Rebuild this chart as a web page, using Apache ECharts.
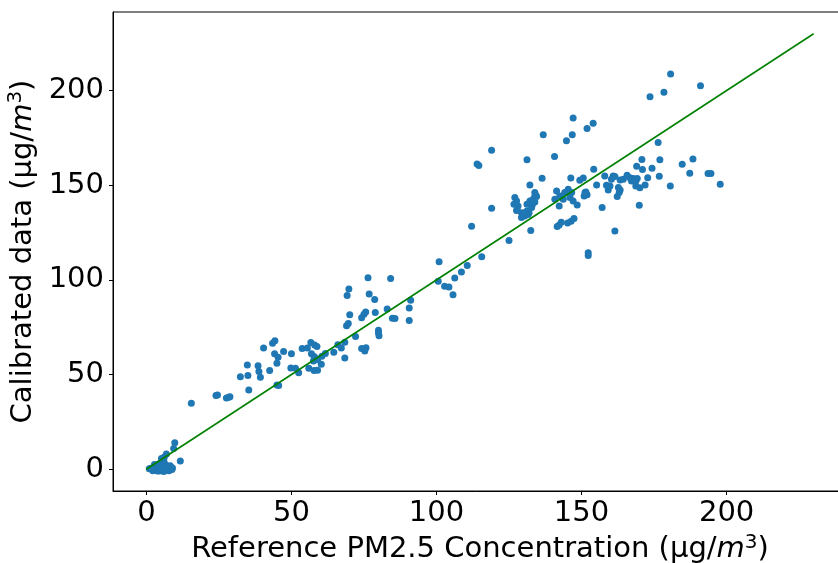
<!DOCTYPE html>
<html>
<head>
<meta charset="utf-8">
<script src="https://cdn.jsdelivr.net/npm/echarts@6/dist/echarts.min.js"></script>
<style>
  html, body { margin: 0; padding: 0; background: #fff; }
  #main { width: 838px; height: 563px; }
</style>
</head>
<body>
<div id="main"></div>
<script>
// reference PM2.5 (x) vs calibrated sensor data (y)
var refX = [
  1.0, 1.5, 2.0, 2.5, 3.0, 3.5, 4.0, 4.5, 5.0, 5.5, 6.0, 6.5, 7.0, 7.5, 8.0, 8.5, 3.2, 4.2, 5.2, 6.0,
  4.8, 2.2, 3.8, 5.8, 7.2, 6.6, 5.5, 6.2, 6.9, 9.4, 9.8, 11.7, 4.0, 8.8, 2.8, 5.2,
  3.0, 4.5, 6.0, 7.8, 8.2, 5.0, 6.8, 9.0,
  15.5, 24.0, 24.5, 27.6, 28.4, 28.8, 32.4, 35.0, 34.8, 35.3, 38.5, 38.8, 39.3, 40.4, 42.5, 43.5, 44.3, 44.2,
  45.4, 45.0, 45.0, 45.6, 47.3, 50.0, 49.8, 51.4, 52.5, 53.7, 55.5, 56.7, 58.0, 58.8, 56.9, 57.8, 58.3, 56.0,
  57.6, 59.0, 57.8, 59.0, 60.3, 60.5, 61.7, 64.6, 66.0, 67.2, 68.4, 68.4, 69.0, 69.6, 70.1, 69.2, 69.8, 72.1,
  74.2, 75.7, 75.3, 74.2, 75.0, 75.6, 76.4, 76.8, 78.7, 78.9, 80.0, 80.2, 80.0, 83.0, 84.2, 84.8, 85.7, 90.6,
  90.6, 91.1,
  100.9, 100.6, 102.8, 104.3, 105.7, 106.3, 108.6, 110.6, 112.1, 115.6, 114.0, 114.6, 119.0, 119.0, 125.0,
  127.0, 127.6, 126.7, 128.1, 127.6, 129.3, 129.3, 130.4, 131.6, 131.2, 132.2, 133.3, 133.9, 134.5, 133.1,
  132.8, 131.9, 127.8, 130.4, 131.2, 132.8, 133.9, 134.2, 133.9, 131.2, 132.2, 132.5, 136.4, 136.8,
  140.7, 140.8, 141.4, 142.5, 144.2, 143.7, 145.4, 146.6, 146.0, 147.1, 146.3, 148.5, 142.3, 141.6, 142.3,
  143.0, 145.2, 146.4, 147.4, 149.4, 150.6, 150.9, 151.5, 151.9, 151.2, 152.3, 152.3, 154.2, 155.2, 157.1,
  158.0, 147.1, 146.8, 144.8, 151.9, 154.0,
  160.9, 160.3, 161.5, 158.6, 159.2, 159.8, 162.7, 163.3, 163.0, 162.3, 163.3, 164.4, 165.7, 166.7, 167.8,
  168.7, 169.2, 167.2, 168.7, 170.1, 169.9, 161.5,
  180.7, 191.0, 178.4, 173.6, 176.4, 170.8, 177.0, 169.0, 171.0, 174.3, 184.7, 188.4, 187.3, 193.6, 194.6,
  197.8, 176.8, 172.8, 180.6, 171.9
];
var calY = [
  0.2, 0.5, 0.0, 1.0, 0.3, -0.5, 0.8, 0.2, 1.5, -0.3, 0.5, 1.2, 0.0, 0.8, 0.3, 1.0, 2.0, 2.8, 3.5, 4.5,
  1.8, -0.8, -0.9, -0.6, -0.4, 2.5, 5.5, 6.5, 8.0, 11.0, 14.0, 4.4, 1.2, -0.2, 2.5, 5.7,
  1.5, -1.0, -1.2, -0.8, 1.8, 0.0, 0.3, 0.6,
  34.8, 39.0, 39.2, 37.6, 38.0, 38.3, 48.9, 49.5, 55.0, 41.9, 54.6, 51.6, 48.6, 64.0, 52.1, 66.5, 67.8, 61.0,
  59.2, 56.0, 44.5, 44.2, 62.2, 61.0, 53.5, 53.4, 51.0, 63.8, 64.0, 67.0, 65.6, 64.8, 61.0, 59.5, 58.6, 53.4,
  57.2, 57.8, 52.1, 52.3, 55.5, 59.7, 61.1, 61.8, 65.7, 64.0, 67.1, 58.7, 75.8, 77.0, 81.6, 91.7, 95.2, 70.1,
  63.8, 64.2, 62.4, 80.0, 81.8, 83.0, 101.2, 92.6, 89.6, 82.8, 73.4, 70.5, 72.0, 84.6, 100.7, 79.8, 79.6, 85.2,
  78.6, 89.2,
  109.6, 99.3, 96.6, 96.2, 92.2, 101.0, 104.2, 107.6, 128.4, 112.2, 161.2, 160.4, 168.5, 137.8, 120.8,
  143.5, 141.7, 139.9, 139.0, 136.7, 135.5, 132.9, 133.7, 134.6, 136.4, 141.7, 142.6, 144.3, 144.0, 139.9,
  138.2, 135.5, 136.9, 135.5, 139.9, 140.8, 141.1, 144.7, 146.1, 163.5, 150.1, 126.1, 153.7, 176.6,
  165.2, 142.6, 147.0, 144.3, 146.1, 142.6, 147.9, 146.1, 143.5, 141.7, 153.8, 139.5, 139.0, 128.2, 129.0,
  130.5, 130.0, 131.0, 132.4, 152.6, 153.8, 144.3, 146.4, 145.0, 146.2, 114.3, 112.9, 158.4, 150.1, 138.2,
  154.9, 185.5, 176.6, 173.5, 180.0, 182.7,
  154.9, 153.2, 154.6, 150.0, 147.5, 149.6, 148.8, 147.5, 146.1, 144.0, 152.8, 153.2, 155.3, 154.0, 153.5,
  152.3, 153.5, 152.3, 149.6, 148.7, 139.4, 125.8,
  208.8, 202.6, 199.1, 196.8, 172.6, 163.6, 163.4, 160.0, 158.3, 159.0, 161.1, 163.8, 156.3, 156.2, 156.2,
  150.5, 154.7, 154.0, 149.6, 150.1
];
// reference line y = x
var lineX = [0, 230];
var lineY = [0, 230];
var tickValues = [0, 50, 100, 150, 200];

var points = refX.map(function (x, i) { return [x, calY[i]]; });
var linePts = lineX.map(function (x, i) { return [x, lineY[i]]; });

var chart = echarts.init(document.getElementById('main'), null, { renderer: 'canvas' });

var font = 'DejaVu Sans';
var nameRich = {
  i: { fontFamily: font, fontSize: 29, fontStyle: 'italic', color: '#000' },
  s: { fontFamily: font, fontSize: 20, color: '#000', verticalAlign: 'top', padding: [0, 0, 14, 0] }
};

function makeAxis(name, gap) {
  return {
    type: 'value',
    min: -11.5,
    max: 241.5,
    name: name,
    nameLocation: 'middle',
    nameGap: gap,
    nameTextStyle: { fontFamily: font, fontSize: 29, color: '#000', rich: nameRich },
    axisLine: { show: true, onZero: false, lineStyle: { color: '#000', width: 1 } },
    axisTick: { show: true, inside: false, length: 4, lineStyle: { color: '#000' }, customValues: tickValues },
    axisLabel: { fontFamily: font, fontSize: 29, color: '#000', margin: 8, customValues: tickValues },
    splitLine: { show: false }
  };
}

var xAx = makeAxis('Reference PM2.5 Concentration (µg/{i|m}{s|3})', 34);
var yAx = makeAxis('Calibrated data (µg/{i|m}{s|3})', 62);
yAx.axisLabel.margin = 9;

chart.setOption({
  animation: false,
  backgroundColor: '#fff',
  grid: {
    left: 113, top: 12, right: -9, bottom: 72,
    containLabel: false,
    outerBoundsMode: 'none',
    show: true, borderColor: '#000', borderWidth: 1
  },
  xAxis: xAx,
  yAxis: yAx,
  series: [
    {
      type: 'scatter',
      data: points,
      symbolSize: 7,
      itemStyle: { color: '#1f77b4', opacity: 1 },
      z: 2
    },
    {
      type: 'line',
      data: linePts,
      showSymbol: false,
      lineStyle: { color: '#008000', width: 1.6 },
      z: 3
    }
  ]
});
</script>
</body>
</html>
